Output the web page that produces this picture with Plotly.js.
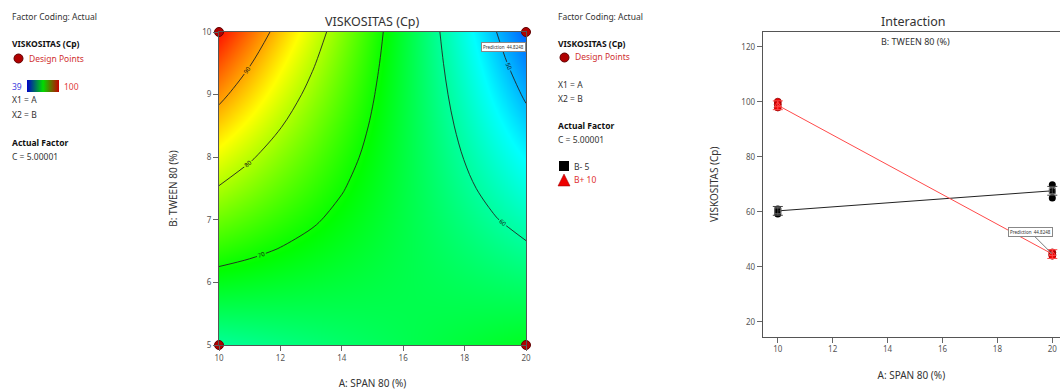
<!DOCTYPE html>
<html>
<head>
<meta charset="utf-8">
<script src="https://cdn.plot.ly/plotly-3.0.1.min.js"></script>
<style>html,body{margin:0;padding:0;background:#fff;}#chart{width:1060px;height:391px;}</style>
</head>
<body>
<div id="chart"></div>
<script>
// ---- Contour surface: VISKOSITAS (Cp) read over A (SPAN 80) x B (TWEEN 80) ----
const spanA = [10, 11, 12, 13, 14, 15, 16, 17, 18, 19, 20];
const tweenB = [5, 5.5, 6, 6.5, 7, 7.5, 8, 8.5, 9, 9.5, 10];
const viskositasGrid = [
  [60.30, 61.03, 61.76, 62.49, 63.22, 63.95, 64.68, 65.41, 66.14, 66.87, 67.60],
  [64.17, 64.29, 64.40, 64.52, 64.63, 64.75, 64.86, 64.98, 65.09, 65.21, 65.32],
  [68.04, 67.54, 67.04, 66.54, 66.04, 65.54, 65.04, 64.54, 64.04, 63.54, 63.04],
  [71.91, 70.80, 69.68, 68.57, 67.45, 66.34, 65.22, 64.11, 62.99, 61.88, 60.76],
  [75.78, 74.05, 72.32, 70.59, 68.86, 67.13, 65.40, 63.67, 61.94, 60.21, 58.48],
  [79.65, 77.31, 74.96, 72.62, 70.27, 67.93, 65.58, 63.24, 60.89, 58.55, 56.20],
  [83.52, 80.56, 77.60, 74.64, 71.68, 68.72, 65.76, 62.80, 59.84, 56.88, 53.92],
  [87.39, 83.82, 80.24, 76.67, 73.09, 69.52, 65.94, 62.37, 58.79, 55.22, 51.64],
  [91.26, 87.07, 82.88, 78.69, 74.50, 70.31, 66.12, 61.93, 57.74, 53.55, 49.36],
  [95.13, 90.33, 85.52, 80.72, 75.91, 71.11, 66.30, 61.50, 56.69, 51.89, 47.08],
  [99.00, 93.58, 88.16, 82.74, 77.32, 71.90, 66.48, 61.06, 55.64, 50.22, 44.80]
];
const contourLevels = [50, 60, 70, 80, 90];
const colorRange = [39, 100];

// Design points (corners of the design)
const designA = [10, 20, 10, 20];
const designB = [5, 5, 10, 10];

// ---- Interaction plot ----
const levelsA = [10, 20];
const meanBminus = [60.3, 67.6];   // B- 5
const meanBplus = [98.7, 44.6];    // B+ 10
const lsdHalf = [1.6, 1.6];
const obsA = [10, 10, 10, 20, 20, 20];
const obsBminus = [59.2, 60.2, 61.0, 69.8, 67.4, 65.0];
const obsBplus = [100.0, 99.0, 97.9, 45.2, 44.5, 44.0];
const predictionText = 'Prediction  44.8248';

const xTicks = [10, 12, 14, 16, 18, 20];
const yTicksContour = [5, 6, 7, 8, 9, 10];
const yTicksInter = [20, 40, 60, 80, 100, 120];

const W = 1060, H = 391;
const px = v => v / W;
const py = v => 1 - v / H;

const FONT = 'Noto Sans, Open Sans, sans-serif';
const jet = [[0, 'rgb(0,0,255)'], [0.25, 'rgb(0,255,255)'], [0.5, 'rgb(0,255,0)'], [0.75, 'rgb(255,255,0)'], [1, 'rgb(255,0,0)']];
const legendBar = [[0, 'rgb(0,0,200)'], [0.5, 'rgb(0,220,0)'], [1, 'rgb(200,0,0)']];

const traces = [
  {
    type: 'heatmap', x: spanA, y: tweenB, z: viskositasGrid, zsmooth: 'best',
    colorscale: jet, zmin: colorRange[0], zmax: colorRange[1], hoverinfo: 'skip',
    xaxis: 'x', yaxis: 'y', showscale: false
  },
  {
    // invisible carrier for the small legend colour bar
    type: 'scatter', mode: 'markers', x: [designA[0]], y: [designB[0]], xaxis: 'x', yaxis: 'y',
    hoverinfo: 'skip',
    marker: { size: 0.1, opacity: 0, color: colorRange, cmin: colorRange[0], cmax: colorRange[1],
      colorscale: legendBar, showscale: true,
      colorbar: {
        orientation: 'h', lenmode: 'pixels', len: 32, thickness: 12,
        x: px(43), xanchor: 'center', y: py(86), yanchor: 'middle',
        showticklabels: false, ticks: '', outlinewidth: 0, xpad: 0, ypad: 0
      } }
  },
  {
    type: 'contour', x: spanA, y: tweenB, z: viskositasGrid,
    autocontour: false,
    contours: { start: contourLevels[0], end: contourLevels[contourLevels.length - 1], size: 10,
      coloring: 'none', showlabels: true, labelfont: { size: 6, color: '#111', family: FONT } },
    line: { color: '#222', width: 0.9, smoothing: 1 },
    showscale: false, hoverinfo: 'skip', xaxis: 'x', yaxis: 'y'
  },
  {
    type: 'scatter', mode: 'markers', x: designA, y: designB, cliponaxis: false,
    marker: { size: 9, color: '#b00000', line: { color: '#600000', width: 1 } },
    xaxis: 'x', yaxis: 'y', hoverinfo: 'skip'
  },
  // interaction: observed points
  {
    type: 'scatter', mode: 'markers', x: obsA, y: obsBminus, cliponaxis: false,
    marker: { size: 7, color: '#000' }, xaxis: 'x2', yaxis: 'y2'
  },
  {
    type: 'scatter', mode: 'markers', x: obsA, y: obsBplus, cliponaxis: false,
    marker: { size: 7, color: '#ee0000', line: { color: '#900000', width: 0.8 } }, xaxis: 'x2', yaxis: 'y2'
  },
  // interaction lines
  {
    type: 'scatter', mode: 'lines+markers', x: levelsA, y: meanBminus, cliponaxis: false,
    line: { color: '#222', width: 1 },
    marker: { symbol: 'square-open', size: 6, color: '#777' },
    error_y: { type: 'data', array: lsdHalf, color: '#444', thickness: 1, width: 5 },
    xaxis: 'x2', yaxis: 'y2'
  },
  {
    type: 'scatter', mode: 'lines+markers', x: levelsA, y: meanBplus, cliponaxis: false,
    line: { color: '#ff4a4a', width: 1 },
    marker: { symbol: 'triangle-up-open', size: 6, color: '#ff4a4a' },
    error_y: { type: 'data', array: lsdHalf, color: '#ff4a4a', thickness: 1, width: 5 },
    xaxis: 'x2', yaxis: 'y2'
  }
];

const axisCommon = {
  ticks: 'outside', ticklen: 5, tickwidth: 1, tickcolor: '#666',
  tickfont: { size: 8, color: '#555', family: FONT },
  showgrid: false, zeroline: false, showline: true, linecolor: '#555', linewidth: 1
};

function txt(text, x, y, opts) {
  return Object.assign({
    text: text, xref: 'paper', yref: 'paper', x: px(x), y: py(y),
    xanchor: 'left', yanchor: 'middle', showarrow: false,
    font: { size: 8.5, color: '#333', family: FONT }
  }, opts || {});
}

const annotations = [
  // left legend
  txt('Factor Coding: Actual', 10, 16),
  txt('<b>VISKOSITAS (Cp)</b>', 10, 44, { font: { size: 8.5, color: '#111', family: FONT } }),
  txt('Design Points', 27, 58, { font: { size: 8.5, color: '#d03030', family: FONT } }),
  txt('39', 10, 86, { font: { size: 8.5, color: '#4040e0', family: FONT } }),
  txt('100', 62, 86, { font: { size: 8.5, color: '#e04040', family: FONT } }),
  txt('X1 = A', 10, 100),
  txt('X2 = B', 10, 114),
  txt('<b>Actual Factor</b>', 10, 142, { font: { size: 8.5, color: '#111', family: FONT } }),
  txt('C = 5.00001', 10, 156),
  // right legend
  txt('Factor Coding: Actual', 556, 16),
  txt('<b>VISKOSITAS (Cp)</b>', 556, 44, { font: { size: 8.5, color: '#111', family: FONT } }),
  txt('Design Points', 573, 57, { font: { size: 8.5, color: '#d03030', family: FONT } }),
  txt('X1 = A', 556, 85),
  txt('X2 = B', 556, 98),
  txt('<b>Actual Factor</b>', 556, 125, { font: { size: 8.5, color: '#111', family: FONT } }),
  txt('C = 5.00001', 556, 139),
  txt('B- 5', 572, 166),
  txt('B+ 10', 572, 180, { font: { size: 8.5, color: '#e03030', family: FONT } }),
  // titles
  txt('VISKOSITAS (Cp)', 372, 21, { xanchor: 'center', font: { size: 12.5, color: '#333', family: FONT } }),
  txt('Interaction', 913, 22, { xanchor: 'center', font: { size: 12.5, color: '#333', family: FONT } }),
  txt('B: TWEEN 80 (%)', 915, 42, { xanchor: 'center', font: { size: 9, color: '#333', family: FONT } }),
  // prediction flags
  {
    text: predictionText, xref: 'x domain', yref: 'y domain', x: 1, y: 0.953,
    xanchor: 'right', yanchor: 'middle', showarrow: false,
    font: { size: 4.5, color: '#333', family: FONT },
    bgcolor: '#fff', bordercolor: '#888', borderwidth: 1, borderpad: 1
  },
  {
    text: predictionText, xref: 'x2', yref: 'y2', x: levelsA[1], y: meanBplus[1],
    ax: -22, ay: -22, showarrow: true, arrowhead: 0, arrowwidth: 1, arrowcolor: '#777',
    font: { size: 4.5, color: '#333', family: FONT },
    bgcolor: '#fff', bordercolor: '#888', borderwidth: 1, borderpad: 1
  }
];

const shapes = [
  // legend markers
  { type: 'circle', xref: 'paper', yref: 'paper', x0: px(14), x1: px(23), y0: py(63), y1: py(54),
    fillcolor: '#b00000', line: { color: '#600000', width: 1 } },
  { type: 'circle', xref: 'paper', yref: 'paper', x0: px(560), x1: px(569), y0: py(62), y1: py(53),
    fillcolor: '#b00000', line: { color: '#600000', width: 1 } },
  { type: 'rect', xref: 'paper', yref: 'paper', x0: px(559), x1: px(569), y0: py(171), y1: py(161),
    fillcolor: '#000', line: { color: '#000', width: 0 } },
  { type: 'path', xref: 'paper', yref: 'paper',
    path: 'M ' + px(558) + ' ' + py(186) + ' L ' + px(570) + ' ' + py(186) + ' L ' + px(564) + ' ' + py(174) + ' Z',
    fillcolor: '#ee0000', line: { color: '#900000', width: 0.5 } }
];

const layout = {
  width: W, height: H,
  margin: { l: 0, r: 0, t: 0, b: 0 },
  paper_bgcolor: '#fff', plot_bgcolor: '#fff',
  showlegend: false,
  font: { family: FONT, color: '#333' },
  xaxis: Object.assign({}, axisCommon, {
    domain: [px(219), px(526)], range: [10, 20], tickvals: xTicks, mirror: true, anchor: 'y',
    title: { text: 'A: SPAN 80 (%)', font: { size: 10, color: '#333', family: FONT }, standoff: 18 }
  }),
  yaxis: Object.assign({}, axisCommon, {
    domain: [py(345), py(32)], range: [5, 10], tickvals: yTicksContour, mirror: true, anchor: 'x',
    title: { text: 'B: TWEEN 80 (%)', font: { size: 10, color: '#333', family: FONT }, standoff: 22 }
  }),
  xaxis2: Object.assign({}, axisCommon, {
    domain: [px(762.7), 1], range: [9.45, 20.28], tickvals: xTicks, mirror: true, anchor: 'y2',
    title: { text: 'A: SPAN 80 (%)', font: { size: 10, color: '#333', family: FONT }, standoff: 18 }
  }),
  yaxis2: Object.assign({}, axisCommon, {
    domain: [py(336.7), py(31.7)], range: [14.55, 125.45], tickvals: yTicksInter, mirror: false, anchor: 'x2',
    title: { text: 'VISKOSITAS (Cp)', font: { size: 10, color: '#333', family: FONT }, standoff: 20 }
  }),
  annotations: annotations,
  shapes: shapes
};

Plotly.newPlot('chart', traces, layout, { staticPlot: true, displayModeBar: false });
</script>
</body>
</html>
